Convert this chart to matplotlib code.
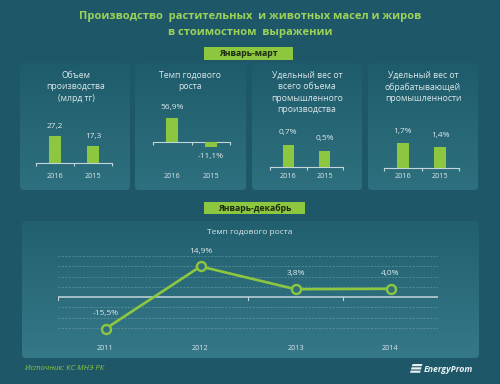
import numpy as np
import matplotlib
matplotlib.use('Agg')
import matplotlib.pyplot as plt
import matplotlib.transforms as mtransforms
from matplotlib.patches import FancyBboxPatch, Rectangle, Polygon
from matplotlib.colors import LinearSegmentedColormap

plt.rcParams['font.family'] = ['Open Sans', 'DejaVu Sans']

# данные
quarter_years = ['2016', '2015']
volume = [27.2, 17.3]          # млрд тг
growth_q = [56.9, -11.1]       # %
share_total = [0.7, 0.5]       # %
share_manuf = [1.7, 1.4]       # %

years = ['2011', '2012', '2013', '2014']
growth_y = [-15.5, 14.9, 3.8, 4.0]

# цвета
BG = '#1e5868'
GREEN = '#8dc63f'
TITLE_GREEN = '#9bd35a'
TXT = '#dce8eb'

W, H = 500, 384
fig = plt.figure(figsize=(5, 3.84), dpi=100)
fig.patch.set_facecolor(BG)

bg = fig.add_axes([0, 0, 1, 1])
bg.set_xlim(0, W)
bg.set_ylim(H, 0)
bg.axis('off')


def rect(x0, y0, x1, y1):
    return [x0 / W, 1 - y1 / H, (x1 - x0) / W, (y1 - y0) / H]


def fmt(v, pct=True):
    s = f"{v:.1f}".replace('.', ',')
    return s + '%' if pct else s


def panel(x0, y0, x1, y1, c_top, c_bot):
    patch = FancyBboxPatch((x0, y0), x1 - x0, y1 - y0,
                           boxstyle='round,pad=0,rounding_size=4',
                           fc='none', ec='none', zorder=1)
    bg.add_patch(patch)
    cmap = LinearSegmentedColormap.from_list('g', [c_top, c_bot])
    grad = np.linspace(0, 1, 100).reshape(-1, 1)
    im = bg.imshow(grad, extent=[x0, x1, y1, y0], cmap=cmap, aspect='auto', zorder=1)
    im.set_clip_path(patch)


# заголовок
bg.text(250, 17, 'Производство  растительных  и животных масел и жиров',
        ha='center', va='center', color=TITLE_GREEN, fontsize=8.0, fontweight='bold')
bg.text(250, 33, 'в стоимостном  выражении',
        ha='center', va='center', color=TITLE_GREEN, fontsize=8.0, fontweight='bold')


def label_box(x0, x1, y0, y1, text):
    bg.add_patch(Rectangle((x0, y0), x1 - x0, y1 - y0, fc=GREEN, ec='none', zorder=3))
    bg.text((x0 + x1) / 2, (y0 + y1) / 2 + 0.5, text, ha='center', va='center',
            color='#1b2a12', fontsize=6.3, fontweight='bold', zorder=4)


# панели с барами
panels_x = [(20, 130), (135, 246), (252, 362), (368, 478)]
for px0, px1 in panels_x:
    panel(px0, 63, px1, 190, '#1f5c6b', '#2e707f')

label_box(204, 293, 47, 60, 'Январь-март')

titles = ['Объем\nпроизводства\n(млрд тг)',
          'Темп годового\nроста',
          'Удельный вес от\nвсего объема\nпромышленного\nпроизводства',
          'Удельный вес от\nобрабатывающей\nпромышленности']
title_x = [76, 190, 307, 423]
for t, tx in zip(titles, title_x):
    bg.text(tx, 71, t, ha='center', va='top', color=TXT, fontsize=6.2,
            linespacing=1.35)

# (значения, x0, x1, y_top, y_bottom, ylim, отступ подписи в px, формат)
bar_specs = [
    (volume, 36, 112, 118, 163, (0, 45), 9, False),
    (growth_q, 153, 230, 112, 152, (-23.7, 71.1), 10, True),
    (share_total, 270, 343, 122, 167, (0, 1.433), 13, True),
    (share_manuf, 384, 459, 123, 168, (0, 3.0), 11, True),
]

for vals, x0, x1, yt, yb, ylim, off, pct in bar_specs:
    ax = fig.add_axes(rect(x0, yt, x1, yb))
    ax.patch.set_alpha(0)
    xs = np.arange(len(vals))
    ax.bar(xs, vals, width=0.31, color=GREEN, zorder=3)
    ax.set_xlim(-0.5, 1.5)
    ax.set_ylim(*ylim)
    for s in ['top', 'right', 'left']:
        ax.spines[s].set_visible(False)
    ax.spines['bottom'].set_position(('data', 0))
    ax.spines['bottom'].set_color('#c4d6da')
    ax.spines['bottom'].set_linewidth(0.8)
    ax.set_yticks([])
    ax.set_xticks([-0.5, 0.5, 1.5])
    ax.set_xticklabels([])
    ax.tick_params(axis='x', direction='out', length=2.5, width=0.8, colors='#c4d6da')
    for x, v in zip(xs, vals):
        d = 1 if v >= 0 else -1
        ax.annotate(fmt(v, pct), (x, v), xytext=(0, d * off * 0.72),
                    textcoords='offset points', ha='center', va='center',
                    color=TXT, fontsize=6.0)
    tr = mtransforms.blended_transform_factory(ax.transData, bg.transData)
    for x, lab in zip(xs, quarter_years):
        ax.text(x, 176.5, lab, transform=tr, ha='center', va='center',
                color=TXT, fontsize=5.2)

# нижняя панель
panel(22, 221, 479, 358, '#22606f', '#357888')
label_box(204, 305, 202, 214, 'Январь-декабрь')
bg.text(250, 232, 'Темп годового роста', ha='center', va='center',
        color=TXT, fontsize=6.0)

lax = fig.add_axes(rect(58, 256, 438, 338))
lax.patch.set_alpha(0)
lax.set_xlim(-0.5, 3.5)
lax.set_ylim(-20, 20)
for s in lax.spines.values():
    s.set_visible(False)
lax.set_yticks([])
for gy in [-20, -15, -10, -5, 5, 10, 15, 20]:
    lax.axhline(gy, color='#a8c8d0', lw=0.5, ls=(0, (3, 2)), alpha=0.45, zorder=1)
lax.axhline(0, color='#c4d6da', lw=1.1, zorder=2)
lax.set_xticks([])
for tx in [-0.5, 1.5, 2.5, 3.5]:
    lax.plot([tx, tx], [0, -1.3], color='#c4d6da', lw=0.8, zorder=2)

xs = np.arange(len(years))
lax.plot(xs, growth_y, color=GREEN, lw=1.9, marker='o', markersize=6.5,
         markerfacecolor='#2e6e7d', markeredgecolor=GREEN, markeredgewidth=1.7,
         zorder=4, clip_on=False)
for x, v in zip(xs, growth_y):
    lax.annotate(fmt(v), (x, v), xytext=(0, 11), textcoords='offset points',
                 ha='center', va='center', color=TXT, fontsize=6.0)
trl = mtransforms.blended_transform_factory(lax.transData, bg.transData)
for x, lab in zip(xs, years):
    lax.text(x, 348, lab, transform=trl, ha='center', va='center',
             color=TXT, fontsize=5.2)

# подвал
bg.text(25, 369, 'Источник: КС МНЭ РК', ha='left', va='center',
        color=GREEN, fontsize=5.6, style='italic')
for i in range(3):
    yy = 364 + i * 3.3
    bg.add_patch(Polygon([(411 + 1.5 - i * 0.9, yy), (421 + 1.5 - i * 0.9, yy),
                          (420.3 + 1.5 - i * 0.9, yy + 2.2), (410.3 + 1.5 - i * 0.9, yy + 2.2)],
                         closed=True, fc='#e8f0f2', ec='none'))
bg.text(424, 369.5, 'EnergyProm', ha='left', va='center', color='#e8f0f2',
        fontsize=6.3, fontweight='bold', style='italic')

fig.savefig('out.png', dpi=100, facecolor=BG)
